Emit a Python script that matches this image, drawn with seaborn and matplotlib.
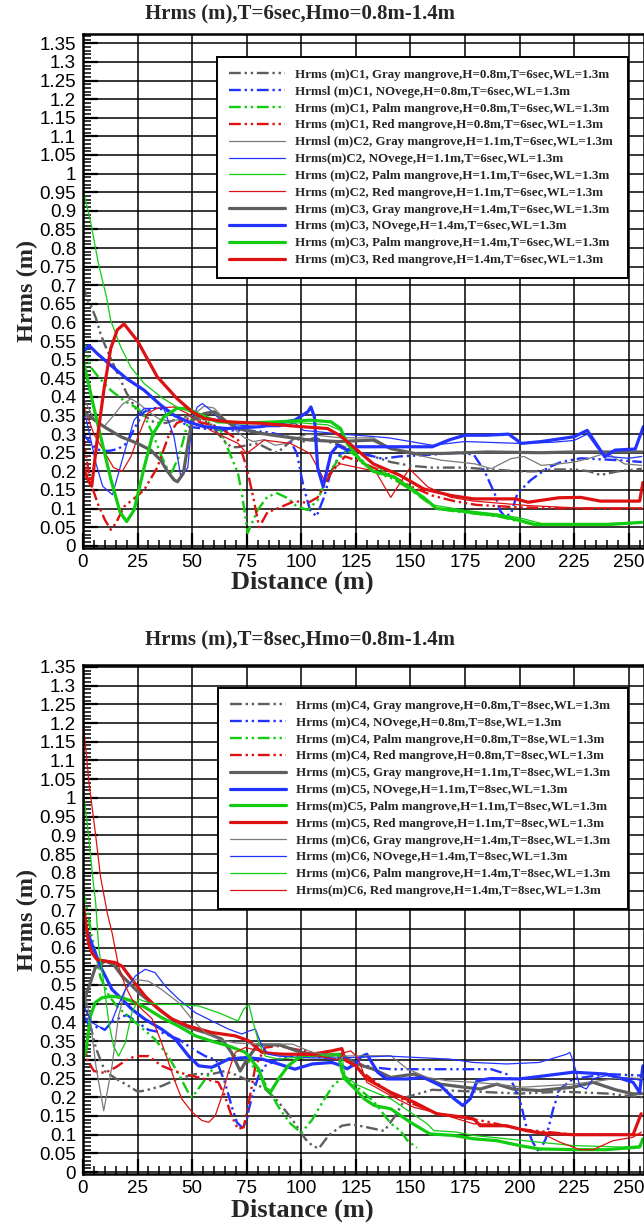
import numpy as np
import pandas as pd
import matplotlib
matplotlib.use("Agg")
import matplotlib.pyplot as plt
from matplotlib.ticker import MultipleLocator, FuncFormatter
import seaborn as sns

# ---------------------------------------------------------------- T = 6 sec
# C1 : H = 0.8 m (dash-dot-dot)
c1_gray_x = [0, 2, 4, 6, 8, 10, 13, 16, 20, 24, 28, 33, 38, 43, 48, 53, 58, 62, 65, 68, 71, 75, 80, 85, 89, 93, 97, 101, 106, 112, 118, 125, 133, 141, 150, 160, 175, 187, 200, 207, 215, 225, 232, 237, 245, 256]
c1_gray_y = [0.70, 0.66, 0.64, 0.61, 0.57, 0.54, 0.50, 0.46, 0.41, 0.37, 0.35, 0.33, 0.33, 0.34, 0.35, 0.34, 0.33, 0.30, 0.28, 0.265, 0.265, 0.27, 0.275, 0.26, 0.25, 0.27, 0.29, 0.28, 0.29, 0.28, 0.27, 0.25, 0.24, 0.225, 0.215, 0.21, 0.21, 0.205, 0.20, 0.20, 0.205, 0.205, 0.20, 0.19, 0.20, 0.207]
c1_blue_x = [0, 3, 6, 9, 12, 16, 20, 24, 28, 33, 38, 43, 48, 55, 65, 75, 85, 94, 98, 101, 104, 107, 110.5, 113.6, 118, 124, 130, 137, 145, 160, 172, 179, 184, 188.6, 191, 193, 196, 199, 205, 213, 219, 228, 245, 256]
c1_blue_y = [0.30, 0.28, 0.26, 0.255, 0.255, 0.26, 0.275, 0.32, 0.36, 0.37, 0.365, 0.345, 0.32, 0.315, 0.31, 0.31, 0.305, 0.293, 0.248, 0.159, 0.096, 0.079, 0.132, 0.20, 0.248, 0.255, 0.245, 0.234, 0.24, 0.245, 0.25, 0.245, 0.20, 0.14, 0.095, 0.08, 0.085, 0.14, 0.176, 0.21, 0.225, 0.235, 0.23, 0.225]
c1_green_x = [0, 3.5, 7, 12.7, 18.8, 25, 28, 32, 36, 40, 44, 48, 52, 58, 63, 66, 71, 73, 74.6, 75.4, 80, 84.5, 89, 93.7, 98, 103, 107.5, 112, 116.7, 121, 127, 133, 142, 149, 156, 162, 171, 182, 191, 200, 207, 225, 240, 256]
c1_green_y = [0.55, 0.48, 0.454, 0.418, 0.39, 0.369, 0.35, 0.30, 0.24, 0.19, 0.24, 0.33, 0.35, 0.33, 0.31, 0.266, 0.195, 0.132, 0.07, 0.034, 0.096, 0.132, 0.141, 0.128, 0.105, 0.096, 0.123, 0.186, 0.23, 0.257, 0.235, 0.20, 0.18, 0.155, 0.125, 0.10, 0.092, 0.085, 0.078, 0.065, 0.057, 0.057, 0.058, 0.062]
c1_red_x = [0, 2, 4, 7, 10, 12.7, 15, 18.8, 23, 28, 34, 39.5, 43, 48, 55, 62, 67, 71, 75, 78, 80.7, 84.5, 89, 97, 103, 107.5, 113.6, 120, 125, 133, 141, 150, 160, 170, 180, 200, 225, 256]
c1_red_y = [0.30, 0.22, 0.16, 0.11, 0.07, 0.043, 0.06, 0.105, 0.125, 0.15, 0.21, 0.30, 0.33, 0.34, 0.33, 0.32, 0.30, 0.284, 0.21, 0.13, 0.05, 0.09, 0.10, 0.12, 0.115, 0.13, 0.195, 0.24, 0.23, 0.21, 0.19, 0.16, 0.135, 0.12, 0.11, 0.103, 0.10, 0.10]

# C2 : H = 1.1 m (thin)
c2_gray_x = [0, 5, 9.6, 14, 18, 22, 26, 30, 35, 40, 45, 50, 55.5, 60, 65, 70, 74, 78, 83, 88, 93, 98, 103, 110, 118, 125, 133, 140, 148, 156, 164, 172, 179.6, 187, 196, 202, 210, 218, 225, 232, 240, 248, 256]
c2_gray_y = [0.40, 0.34, 0.32, 0.35, 0.38, 0.395, 0.38, 0.36, 0.34, 0.335, 0.34, 0.35, 0.375, 0.37, 0.34, 0.31, 0.29, 0.28, 0.285, 0.27, 0.275, 0.29, 0.30, 0.295, 0.29, 0.29, 0.29, 0.265, 0.25, 0.24, 0.23, 0.225, 0.22, 0.207, 0.234, 0.24, 0.216, 0.22, 0.225, 0.235, 0.25, 0.22, 0.216]
c2_blue_x = [0, 3, 6, 9, 13.5, 18.8, 23.4, 28, 37, 41.7, 44.8, 48, 50, 52.4, 54.7, 58.5, 63, 70, 80, 90, 97, 101, 110, 118, 130, 140, 150, 160, 175, 200, 215, 225, 231, 236, 240, 250, 256]
c2_blue_y = [0.38, 0.30, 0.22, 0.16, 0.137, 0.248, 0.3375, 0.369, 0.369, 0.293, 0.186, 0.21, 0.3375, 0.373, 0.382, 0.364, 0.3375, 0.325, 0.32, 0.32, 0.33, 0.31, 0.305, 0.30, 0.295, 0.29, 0.28, 0.27, 0.28, 0.275, 0.278, 0.283, 0.30, 0.26, 0.24, 0.235, 0.24]
c2_green_x = [0, 3.5, 7, 10.8, 12.7, 17.3, 21.9, 28, 35.6, 43, 49, 55, 65, 80, 100, 112, 118, 121, 125, 133, 140, 150, 160, 175, 190, 200, 210, 225, 256]
c2_green_y = [0.957, 0.87, 0.76, 0.667, 0.605, 0.534, 0.48, 0.436, 0.40, 0.373, 0.36, 0.345, 0.335, 0.33, 0.33, 0.325, 0.31, 0.28, 0.26, 0.22, 0.19, 0.16, 0.11, 0.095, 0.085, 0.075, 0.06, 0.06, 0.06]
c2_red_x = [0, 5, 10, 14, 18, 22, 25, 29.5, 34, 41.7, 48, 58.5, 71, 75, 83, 95, 104, 110.5, 115, 118, 126, 134, 141, 149.5, 158, 168.6, 179, 204, 225, 256]
c2_red_y = [0.38, 0.30, 0.25, 0.21, 0.20, 0.24, 0.29, 0.355, 0.37, 0.373, 0.355, 0.31, 0.275, 0.248, 0.284, 0.275, 0.248, 0.177, 0.21, 0.22, 0.21, 0.20, 0.13, 0.207, 0.158, 0.13, 0.12, 0.108, 0.102, 0.102]

# C3 : H = 1.4 m (thick)
c3_gray_x = [0, 9.6, 17.3, 25, 31, 35.6, 38.7, 41.7, 43.3, 46, 48.6, 50, 55.5, 60, 64.7, 70.8, 81.5, 92, 104, 116.7, 125, 133, 141, 151.8, 164, 185.5, 210, 225, 256]
c3_gray_y = [0.36, 0.32, 0.293, 0.275, 0.257, 0.23, 0.20, 0.177, 0.172, 0.195, 0.293, 0.3375, 0.355, 0.36, 0.3375, 0.315, 0.302, 0.293, 0.284, 0.28, 0.282, 0.284, 0.261, 0.248, 0.248, 0.252, 0.25, 0.252, 0.252]
c3_blue_x = [0, 2.8, 6.6, 12.7, 20, 28, 35.6, 41.7, 48, 55.5, 66, 81.5, 97, 103, 104.4, 106, 107.5, 110, 113.6, 116.7, 121, 125, 133, 150, 160, 168, 175, 185, 195, 200.8, 210, 225, 231, 236, 239, 243.7, 253, 256.7]
c3_blue_y = [0.52, 0.538, 0.516, 0.485, 0.449, 0.418, 0.378, 0.351, 0.333, 0.32, 0.315, 0.32, 0.3375, 0.36, 0.373, 0.346, 0.21, 0.159, 0.248, 0.27, 0.257, 0.266, 0.266, 0.266, 0.266, 0.285, 0.297, 0.297, 0.30, 0.275, 0.28, 0.293, 0.31, 0.266, 0.239, 0.257, 0.26, 0.32]
c3_green_x = [0, 6.6, 12.7, 17, 20, 23.4, 28, 32, 37, 43, 48, 52.5, 61.6, 74, 89, 104, 113.6, 118, 121, 127, 133, 142.6, 148.5, 156, 162, 171, 182, 191, 200, 207, 225, 240.6, 256]
c3_green_y = [0.50, 0.33, 0.18, 0.09, 0.065, 0.096, 0.21, 0.30, 0.346, 0.369, 0.369, 0.355, 0.333, 0.33, 0.333, 0.3375, 0.333, 0.315, 0.275, 0.23, 0.20, 0.185, 0.158, 0.13, 0.10, 0.095, 0.086, 0.081, 0.068, 0.057, 0.057, 0.057, 0.063]
c3_red_x = [0, 2, 4, 6.6, 9.6, 12.7, 15.7, 18.8, 25, 34, 43, 50, 55.5, 66, 81.5, 100, 112, 118, 125, 133, 145, 156, 168.6, 179, 198, 204, 218, 228, 237, 255, 256.5]
c3_red_y = [0.22, 0.18, 0.16, 0.29, 0.42, 0.53, 0.58, 0.596, 0.55, 0.454, 0.396, 0.36, 0.342, 0.333, 0.329, 0.32, 0.315, 0.295, 0.26, 0.22, 0.19, 0.153, 0.135, 0.126, 0.126, 0.117, 0.129, 0.13, 0.12, 0.12, 0.17]

# ---------------------------------------------------------------- T = 8 sec
# C4 : H = 0.8 m (dash-dot-dot)
c4_gray_x = [0, 3, 6, 10, 15, 21, 25, 28.5, 36, 43.8, 51.5, 59, 65, 70, 77.4, 83.5, 89.6, 95.7, 101.8, 105, 108, 112.5, 118.6, 123, 130, 138, 143, 148, 160, 180, 200, 220, 240, 256]
c4_gray_y = [0.47, 0.40, 0.33, 0.27, 0.25, 0.23, 0.215, 0.218, 0.23, 0.25, 0.262, 0.262, 0.27, 0.26, 0.24, 0.222, 0.187, 0.142, 0.089, 0.071, 0.063, 0.098, 0.124, 0.128, 0.12, 0.11, 0.15, 0.20, 0.22, 0.215, 0.21, 0.215, 0.21, 0.20]
c4_blue_x = [0, 4, 7, 10, 13, 16, 20, 25, 30, 36, 43.8, 50, 56, 61, 65, 68, 70.5, 72.8, 74.5, 76, 78, 80.5, 83.5, 89.6, 97, 105, 118, 125, 133, 141, 160, 187, 195, 200, 203, 206, 209, 212, 215.4, 218.5, 224.5, 239.7, 256]
c4_blue_y = [0.42, 0.38, 0.39, 0.38, 0.40, 0.41, 0.42, 0.40, 0.38, 0.373, 0.355, 0.33, 0.31, 0.30, 0.24, 0.178, 0.133, 0.12, 0.124, 0.169, 0.213, 0.258, 0.284, 0.302, 0.311, 0.31, 0.30, 0.29, 0.28, 0.275, 0.275, 0.275, 0.26, 0.196, 0.124, 0.08, 0.053, 0.089, 0.169, 0.222, 0.249, 0.262, 0.258]
c4_green_x = [0, 2, 4, 6, 8, 12, 16, 20, 24, 28, 33, 39, 44, 48, 50, 55, 60, 65, 70, 75, 80, 85, 90, 95, 100, 105, 110, 115, 120, 125, 133, 141, 145.5, 148.5, 153]
c4_green_y = [0.75, 0.70, 0.63, 0.58, 0.52, 0.47, 0.44, 0.42, 0.40, 0.38, 0.355, 0.31, 0.26, 0.215, 0.20, 0.24, 0.28, 0.30, 0.31, 0.30, 0.27, 0.22, 0.17, 0.13, 0.105, 0.14, 0.19, 0.235, 0.255, 0.23, 0.19, 0.13, 0.11, 0.085, 0.065]
c4_red_x = [0, 2, 5, 10, 15, 20, 24, 30, 36, 42, 48, 55, 62, 65, 68, 71, 73.6, 76, 79, 83.5, 89.6, 95.7, 105, 118, 125, 133, 141, 150, 163, 175, 185, 200, 225, 256]
c4_red_y = [0.36, 0.30, 0.27, 0.265, 0.28, 0.30, 0.31, 0.31, 0.284, 0.27, 0.26, 0.25, 0.24, 0.204, 0.151, 0.115, 0.12, 0.187, 0.284, 0.333, 0.337, 0.33, 0.32, 0.31, 0.28, 0.245, 0.21, 0.185, 0.155, 0.145, 0.135, 0.115, 0.10, 0.10]

# C5 : H = 1.1 m (thick)
c5_gray_x = [0, 3, 5.6, 10.2, 14, 17.9, 25.5, 33, 40.8, 48.4, 56, 63.7, 68, 72, 75, 80, 90, 100, 110, 118, 125, 133, 141, 151.6, 157.7, 163.8, 174.4, 182, 189.6, 197, 209, 224.5, 233.7, 244, 252, 256]
c5_gray_y = [0.45, 0.50, 0.546, 0.564, 0.555, 0.524, 0.48, 0.444, 0.408, 0.386, 0.373, 0.355, 0.32, 0.27, 0.30, 0.34, 0.34, 0.32, 0.31, 0.315, 0.29, 0.275, 0.253, 0.262, 0.25, 0.235, 0.227, 0.222, 0.235, 0.222, 0.218, 0.227, 0.24, 0.22, 0.209, 0.21]
c5_blue_x = [0, 3.4, 5.6, 8.7, 13.3, 17.9, 22.4, 28.5, 36, 42.3, 48.4, 53, 59, 66.7, 74.4, 82, 89.6, 97, 105, 114, 118, 121, 125, 127, 130, 135, 139, 148.5, 156, 163.8, 170, 174, 177.4, 180.5, 186.5, 200, 224.5, 239.7, 252, 255, 256.5]
c5_blue_y = [0.67, 0.62, 0.586, 0.541, 0.488, 0.462, 0.435, 0.408, 0.382, 0.355, 0.31, 0.284, 0.28, 0.302, 0.306, 0.302, 0.289, 0.275, 0.289, 0.293, 0.285, 0.276, 0.29, 0.307, 0.315, 0.267, 0.249, 0.249, 0.253, 0.231, 0.196, 0.178, 0.196, 0.244, 0.25, 0.249, 0.267, 0.262, 0.24, 0.213, 0.284]
c5_green_x = [0, 1.5, 3.4, 5.6, 8.7, 13.3, 17.9, 22.4, 28.5, 36, 43.8, 51.5, 59, 66.7, 74.4, 80.5, 83.5, 85.8, 89.6, 94, 98.8, 105, 117, 118.6, 120, 125, 128.8, 133.4, 141, 150, 159, 169.8, 179, 189.6, 200, 209, 224.5, 239.7, 255, 256.5]
c5_green_y = [0.30, 0.33, 0.417, 0.453, 0.466, 0.47, 0.466, 0.457, 0.44, 0.413, 0.39, 0.364, 0.35, 0.337, 0.32, 0.275, 0.226, 0.213, 0.249, 0.284, 0.306, 0.311, 0.315, 0.27, 0.249, 0.22, 0.196, 0.178, 0.169, 0.133, 0.102, 0.098, 0.089, 0.084, 0.071, 0.062, 0.06, 0.06, 0.067, 0.089]
c5_red_x = [0, 2.6, 4.1, 6.4, 10.2, 14.8, 17.9, 22.4, 28.5, 34.7, 40.8, 48.4, 59, 69.8, 75.9, 82, 89.6, 105, 114, 118.6, 120, 125, 130, 141, 151.6, 162, 174, 179, 182, 194, 203, 209, 224.5, 252, 255.7]
c5_red_y = [0.72, 0.61, 0.586, 0.568, 0.564, 0.56, 0.55, 0.515, 0.47, 0.435, 0.409, 0.39, 0.373, 0.364, 0.351, 0.32, 0.315, 0.315, 0.324, 0.33, 0.30, 0.284, 0.249, 0.213, 0.187, 0.156, 0.147, 0.142, 0.124, 0.124, 0.111, 0.105, 0.10, 0.10, 0.156]

# C6 : H = 1.4 m (thin)
c6_gray_x = [0, 3, 6, 9.5, 13.3, 16.3, 19.4, 24, 30, 36, 43.8, 50, 56, 62, 70, 82, 96, 105, 118, 131, 141, 148.5, 157.7, 167, 179, 189.6, 201.7, 224.5, 236.7, 247, 256]
c6_gray_y = [0.50, 0.42, 0.28, 0.164, 0.284, 0.417, 0.488, 0.515, 0.51, 0.488, 0.453, 0.408, 0.373, 0.355, 0.345, 0.342, 0.342, 0.32, 0.31, 0.311, 0.311, 0.276, 0.253, 0.244, 0.24, 0.235, 0.227, 0.235, 0.244, 0.253, 0.25]
c6_blue_x = [0, 4, 7, 10, 13, 16, 19.4, 24, 28.5, 33, 37.7, 43.8, 51.5, 59, 66.7, 72.8, 76, 79, 82, 85, 89.6, 105, 118, 140, 168, 179, 194, 209, 221.5, 223, 224.5, 227.6, 230.6, 233.7, 239.7, 252, 256]
c6_blue_y = [0.45, 0.40, 0.39, 0.38, 0.40, 0.444, 0.488, 0.524, 0.542, 0.533, 0.497, 0.462, 0.426, 0.404, 0.382, 0.369, 0.377, 0.382, 0.337, 0.315, 0.31, 0.305, 0.305, 0.31, 0.302, 0.293, 0.289, 0.293, 0.315, 0.32, 0.298, 0.23, 0.222, 0.25, 0.258, 0.249, 0.245]
c6_green_x = [0, 2.4, 4.6, 5.8, 7.2, 9.5, 11.8, 14, 16.3, 19.4, 22.4, 25.5, 30, 34.7, 43.8, 53, 62, 71, 73.6, 76, 78, 80.5, 83.5, 89.6, 105, 118.6, 120, 125, 130, 141, 150, 157.7, 160.7, 171, 179, 194, 209, 224.5, 247, 256]
c6_green_y = [1.03, 0.906, 0.78, 0.72, 0.60, 0.506, 0.40, 0.337, 0.31, 0.346, 0.426, 0.462, 0.453, 0.448, 0.448, 0.444, 0.426, 0.404, 0.435, 0.448, 0.40, 0.346, 0.31, 0.302, 0.311, 0.311, 0.258, 0.235, 0.222, 0.196, 0.16, 0.129, 0.111, 0.107, 0.098, 0.089, 0.08, 0.071, 0.067, 0.07]
c6_red_x = [0, 2.7, 5.8, 8, 11.2, 13.3, 16.3, 19.4, 22.4, 27, 31.6, 35.4, 39.2, 42.3, 45.3, 50, 54.5, 57.6, 60.6, 63.7, 66.7, 69.8, 74.4, 83.5, 97, 108, 117, 120, 122.7, 126, 130, 141, 151.6, 163.8, 179, 186.5, 198.7, 209, 218.5, 227.6, 233.7, 242.8, 251.9, 255.7]
c6_red_y = [1.21, 1.043, 0.90, 0.79, 0.69, 0.64, 0.55, 0.497, 0.462, 0.435, 0.41, 0.355, 0.293, 0.24, 0.195, 0.16, 0.138, 0.133, 0.151, 0.204, 0.27, 0.32, 0.333, 0.32, 0.315, 0.31, 0.30, 0.32, 0.324, 0.305, 0.24, 0.204, 0.173, 0.156, 0.129, 0.129, 0.116, 0.107, 0.08, 0.06, 0.06, 0.084, 0.093, 0.107]

# ---------------------------------------------------------------- text
titles = ["Hrms (m),T=6sec,Hmo=0.8m-1.4m", "Hrms (m),T=8sec,Hmo=0.8m-1.4m"]
labels_t6 = [
    "Hrms (m)C1, Gray mangrove,H=0.8m,T=6sec,WL=1.3m",
    "Hrmsl (m)C1, NOvege,H=0.8m,T=6sec,WL=1.3m",
    "Hrms (m)C1, Palm mangrove,H=0.8m,T=6sec,WL=1.3m",
    "Hrms (m)C1, Red mangrove,H=0.8m,T=6sec,WL=1.3m",
    "Hrmsl (m)C2, Gray mangrove,H=1.1m,T=6sec,WL=1.3m",
    "Hrms(m)C2, NOvege,H=1.1m,T=6sec,WL=1.3m",
    "Hrms (m)C2, Palm mangrove,H=1.1m,T=6sec,WL=1.3m",
    "Hrms (m)C2, Red mangrove,H=1.1m,T=6sec,WL=1.3m",
    "Hrms (m)C3, Gray mangrove,H=1.4m,T=6sec,WL=1.3m",
    "Hrms (m)C3, NOvege,H=1.4m,T=6sec,WL=1.3m",
    "Hrms (m)C3, Palm mangrove,H=1.4m,T=6sec,WL=1.3m",
    "Hrms (m)C3, Red mangrove,H=1.4m,T=6sec,WL=1.3m",
]
labels_t8 = [
    "Hrms (m)C4, Gray mangrove,H=0.8m,T=8sec,WL=1.3m",
    "Hrms (m)C4, NOvege,H=0.8m,T=8se,WL=1.3m",
    "Hrms (m)C4, Palm mangrove,H=0.8m,T=8se,WL=1.3m",
    "Hrms (m)C4, Red mangrove,H=0.8m,T=8sec,WL=1.3m",
    "Hrms (m)C5, Gray mangrove,H=1.1m,T=8sec,WL=1.3m",
    "Hrms (m)C5, NOvege,H=1.1m,T=8sec,WL=1.3m",
    "Hrms(m)C5, Palm mangrove,H=1.1m,T=8sec,WL=1.3m",
    "Hrms (m)C5, Red mangrove,H=1.1m,T=8sec,WL=1.3m",
    "Hrms (m)C6, Gray mangrove,H=1.4m,T=8sec,WL=1.3m",
    "Hrms (m)C6, NOvege,H=1.4m,T=8sec,WL=1.3m",
    "Hrms (m)C6, Palm mangrove,H=1.4m,T=8sec,WL=1.3m",
    "Hrms(m)C6, Red mangrove,H=1.4m,T=8sec,WL=1.3m",
]

# ---------------------------------------------------------------- styling
sns.set_style("white")
plt.rcParams["font.family"] = ["Liberation Sans", "DejaVu Sans"]
SERIF = "Liberation Serif"

COLORS = {"gray": "#5e5e5e", "blue": "#2233ff", "green": "#11cc11", "red": "#dd1111"}
THIN_GRAY = "#7a7a7a"
DASH = (0, (5, 1.6, 1.0, 1.6, 1.0, 1.6))
STYLE = {
    "dash": dict(lw=1.7, ls=DASH),
    "thin": dict(lw=0.9, ls="-"),
    "thick": dict(lw=2.3, ls="-"),
}

panel_t6 = [
    (c1_gray_x, c1_gray_y, "gray", "dash"), (c1_blue_x, c1_blue_y, "blue", "dash"),
    (c1_green_x, c1_green_y, "green", "dash"), (c1_red_x, c1_red_y, "red", "dash"),
    (c2_gray_x, c2_gray_y, "gray", "thin"), (c2_blue_x, c2_blue_y, "blue", "thin"),
    (c2_green_x, c2_green_y, "green", "thin"), (c2_red_x, c2_red_y, "red", "thin"),
    (c3_gray_x, c3_gray_y, "gray", "thick"), (c3_blue_x, c3_blue_y, "blue", "thick"),
    (c3_green_x, c3_green_y, "green", "thick"), (c3_red_x, c3_red_y, "red", "thick"),
]
panel_t8 = [
    (c4_gray_x, c4_gray_y, "gray", "dash"), (c4_blue_x, c4_blue_y, "blue", "dash"),
    (c4_green_x, c4_green_y, "green", "dash"), (c4_red_x, c4_red_y, "red", "dash"),
    (c5_gray_x, c5_gray_y, "gray", "thick"), (c5_blue_x, c5_blue_y, "blue", "thick"),
    (c5_green_x, c5_green_y, "green", "thick"), (c5_red_x, c5_red_y, "red", "thick"),
    (c6_gray_x, c6_gray_y, "gray", "thin"), (c6_blue_x, c6_blue_y, "blue", "thin"),
    (c6_green_x, c6_green_y, "green", "thin"), (c6_red_x, c6_red_y, "red", "thin"),
]

W, H = 644, 1227
fig = plt.figure(figsize=(W / 100, H / 100), dpi=100)


def fig_rect(left, top, right, bottom):
    return [left / W, 1 - bottom / H, (right - left) / W, (bottom - top) / H]


def tick_fmt(v, _):
    return f"{v:.2f}".rstrip("0").rstrip(".")


def draw_panel(rect, ylim, series, labels, title, title_y, xlabel_y, legend_box):
    ax = fig.add_axes(rect)
    for (xs, ys, col, kind), lab in zip(series, labels):
        df = pd.DataFrame({"Distance": xs, "Hrms": ys})
        c = THIN_GRAY if (col == "gray" and kind == "thin") else COLORS[col]
        sns.lineplot(data=df, x="Distance", y="Hrms", ax=ax, color=c,
                     estimator=None, sort=False, label=lab,
                     linewidth=STYLE[kind]["lw"], linestyle=STYLE[kind]["ls"])
    ax.set_xlim(0, 257)
    ax.set_ylim(*ylim)
    ax.xaxis.set_major_locator(MultipleLocator(25))
    ax.xaxis.set_minor_locator(MultipleLocator(5))
    ax.yaxis.set_major_locator(MultipleLocator(0.05))
    ax.yaxis.set_minor_locator(MultipleLocator(0.01))
    ax.yaxis.set_major_formatter(FuncFormatter(tick_fmt))
    ax.set_axisbelow(True)
    ax.grid(True, which="major", color="black", linewidth=1.1)
    ax.tick_params(which="both", direction="in", left=True, bottom=True,
                   top=False, right=False, labelsize=13.5, colors="black")
    ax.tick_params(axis="y", pad=5)
    ax.tick_params(axis="x", pad=4)
    ax.tick_params(which="major", length=11, width=1.6)
    ax.tick_params(which="minor", length=6, width=1.1)
    for sp in ax.spines.values():
        sp.set_color("black")
        sp.set_linewidth(1.8)
    ax.set_xlabel("")
    ax.set_ylabel("Hrms (m)", fontfamily=SERIF, fontweight="bold",
                  fontsize=17.5, labelpad=1)
    fig.text(302 / W, 1 - xlabel_y / H, "Distance (m)", fontfamily=SERIF,
             fontweight="bold", fontsize=19, ha="center", va="center")
    fig.text(300 / W, 1 - title_y / H, title, fontfamily=SERIF,
             fontweight="bold", fontsize=15, ha="center", va="center")
    x0, y0, x1, y1 = legend_box
    leg = ax.legend(loc="upper left", mode="expand",
                    bbox_to_anchor=(x0 / W, 1 - y1 / H, (x1 - x0) / W, (y1 - y0) / H),
                    bbox_transform=fig.transFigure,
                    prop={"family": SERIF, "weight": "bold", "size": 9.4},
                    frameon=True, fancybox=False, shadow=False,
                    handlelength=4.3, handletextpad=0.8, labelspacing=0.36,
                    borderpad=0.9, borderaxespad=0)
    fr = leg.get_frame()
    fr.set_edgecolor("black")
    fr.set_linewidth(1.4)
    fr.set_alpha(1)
    return ax


draw_panel(fig_rect(83, 34, 644, 548), (-0.006, 1.375), panel_t6, labels_t6,
           titles[0], 14, 582, (217, 57, 628, 265))
draw_panel(fig_rect(83, 665, 644, 1174), (-0.005, 1.355), panel_t8, labels_t8,
           titles[1], 640, 1210, (218, 688, 628, 897))

fig.savefig("out.png", dpi=100)
